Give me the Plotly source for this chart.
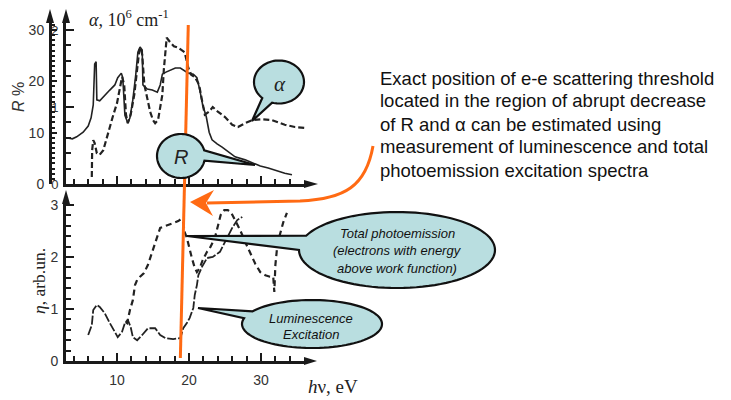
import math
import plotly.graph_objects as go

W, H = 731, 400

# ---- spectra -------------------------------------------------------------
# reflectance R (%) vs photon energy (eV)
r_energy = [3.0, 3.8, 4.4, 5.3, 6.0, 6.4, 6.7, 6.9, 7.1, 7.2, 7.6, 8.1, 8.6, 9.0, 9.7,
            10.1, 10.6, 10.8, 11.1, 11.5, 11.8, 12.2, 12.6, 12.9, 13.2, 13.5, 13.6, 14.2,
            14.9, 15.6, 16.0, 16.3, 16.8, 17.4, 18.1, 18.8, 19.3, 19.9, 20.6, 21.1, 21.5,
            21.9, 22.4, 22.8, 23.2, 23.9, 24.6, 25.7, 26.4, 27.8, 28.8, 29.9, 31.0, 32.2,
            33.3, 34.3]
r_value = [9.0, 8.8, 9.2, 10.1, 11.3, 12.9, 15.4, 23.4, 23.8, 16.4, 16.2, 17.0, 17.7, 18.3,
           19.3, 20.7, 21.6, 20.7, 13.4, 11.9, 12.9, 16.4, 21.2, 25.7, 26.7, 26.1, 19.3,
           18.5, 18.3, 17.9, 19.3, 21.4, 21.8, 22.2, 22.6, 22.6, 22.2, 21.6, 21.4, 20.7,
           18.3, 15.4, 13.1, 10.1, 8.6, 7.8, 7.2, 6.0, 5.3, 4.7, 4.1, 3.5, 3.1, 2.5, 2.1, 1.8]

# absorption coefficient alpha (10^6 cm^-1) vs photon energy (eV)
a_energy = [6.5, 6.55, 6.7, 6.9, 7.2, 7.6, 8.1, 8.5, 8.9, 9.4, 10.0, 10.4, 10.7, 11.0, 11.25,
            11.5, 11.9, 12.4, 12.8, 13.1, 13.3, 13.5, 13.8, 14.2, 14.6, 15.0, 15.3, 15.7,
            16.0, 16.3, 16.5, 16.8, 16.9, 17.4, 17.9, 18.5, 19.0, 19.4, 19.9, 20.3, 20.8,
            21.4, 21.8, 22.2, 22.8, 23.3, 24.0, 25.0, 26.0, 26.8, 27.8, 28.8, 30.1, 31.5,
            33.3, 34.7, 36.0]
a_value = [0.09, 0.44, 0.57, 0.53, 0.40, 0.38, 0.44, 0.57, 0.73, 0.87, 1.05, 1.25, 1.39,
           1.29, 0.90, 0.79, 0.90, 1.16, 1.48, 1.74, 1.77, 1.68, 1.29, 1.09, 0.94, 0.83,
           0.79, 0.83, 0.99, 1.16, 1.48, 1.81, 1.90, 1.84, 1.79, 1.77, 1.74, 1.71, 1.51,
           1.42, 1.39, 1.29, 1.09, 0.90, 0.94, 1.00, 0.94, 0.87, 0.77, 0.74, 0.79, 0.83,
           0.84, 0.83, 0.77, 0.74, 0.73]

# luminescence excitation spectrum (arb. units)
lum_energy = [6.0, 6.5, 6.7, 7.2, 7.6, 8.3, 9.0, 9.7, 10.1, 10.7, 11.1, 11.5, 11.9, 12.2,
              12.8, 13.5, 14.3, 15.3, 16.0, 16.7, 17.8, 18.8, 19.2, 19.7, 20.1, 20.6, 20.8,
              21.1, 21.3, 21.8, 22.5, 23.3, 24.3, 25.3, 26.0, 26.7, 27.4]
lum_value = [0.50, 0.69, 0.98, 1.08, 1.04, 0.92, 0.73, 0.56, 0.46, 0.56, 0.73, 0.79, 0.65,
             0.46, 0.40, 0.50, 0.63, 0.63, 0.50, 0.44, 0.42, 0.44, 0.63, 0.73, 0.83, 1.02,
             1.27, 1.46, 1.65, 1.81, 1.98, 2.00, 2.10, 2.37, 2.56, 2.71, 2.77]

# total photoemission yield (arb. units)
pe_energy = [11.2, 11.4, 11.8, 12.2, 12.5, 12.8, 13.2, 13.75, 14.3, 14.9, 15.3, 15.6, 16.0,
             16.4, 16.9, 17.8, 18.5, 18.9, 19.2, 19.4, 19.7, 20.1, 20.4, 20.8, 21.1, 21.5,
             21.9, 22.5, 22.9, 23.6, 24.0, 24.4, 24.9, 25.4, 25.8, 26.4, 27.1, 27.8, 28.5,
             29.2, 29.9, 30.6, 31.25, 31.7, 31.85, 32.0, 32.2, 32.6, 33.1, 33.6]
pe_value = [0.75, 0.73, 0.98, 1.17, 1.46, 1.56, 1.62, 1.69, 1.85, 2.10, 2.27, 2.42, 2.56,
            2.58, 2.60, 2.65, 2.69, 2.73, 2.67, 2.48, 2.37, 2.13, 1.98, 1.79, 1.71, 1.79,
            1.94, 2.10, 2.17, 2.37, 2.58, 2.81, 2.90, 2.90, 2.87, 2.71, 2.52, 2.29, 2.08,
            1.87, 1.71, 1.65, 1.62, 1.62, 1.33, 1.85, 2.13, 2.42, 2.67, 2.85]

# e-e scattering threshold marker (eV) at the top and bottom of the figure
threshold_top = 19.9
threshold_bottom = 18.8

right_text = [
    "Exact position of e-e scattering threshold",
    "located in the region of abrupt decrease",
    "of R and \u03b1 can be estimated using",
    "measurement of luminescence and total",
    "photoemission excitation spectra",
]

# ---- geometry helpers ----------------------------------------------------
def px(x, y):
    return x / W, 1 - y / H


def path_from(points, close=True):
    parts = []
    for i, (x, y) in enumerate(points):
        u, v = px(x, y)
        parts.append(("M" if i == 0 else "L") + f"{u:.5f},{v:.5f}")
    return " ".join(parts) + (" Z" if close else "")


def callout_path(cx, cy, rx, ry, tip, gap_a, gap_b):
    """Ellipse outline with a wedge-shaped tail between angles gap_a..gap_b (deg)."""
    pts = []
    start, end = gap_b, gap_a + 360
    n = 90
    for i in range(n + 1):
        t = math.radians(start + (end - start) * i / n)
        pts.append((cx + rx * math.cos(t), cy + ry * math.sin(t)))
    pts.append(tip)
    return path_from(pts)


AX = "#1a1a1a"
X_LEFT, X_RIGHT = 66, 305          # pixel extent of both energy axes
EV0, PX_PER_EV = 45, 7.2
x_range = [(X_LEFT - EV0) / PX_PER_EV, (X_RIGHT - EV0) / PX_PER_EV]

TOP_BASE, TOP_TOP = 184, 22
R_PX = 5.133
r_range = [0, (TOP_BASE - TOP_TOP) / R_PX]
a_range = [0, r_range[1] / 15]

BOT_BASE, BOT_TOP = 361, 203
ETA_PX = 52
eta_range = [0, (BOT_BASE - BOT_TOP) / ETA_PX]

fig = go.Figure()
fig.add_trace(go.Scatter(x=r_energy, y=r_value, xaxis="x", yaxis="y2", mode="lines",
                         line=dict(color="#222", width=1.6), showlegend=False))
fig.add_trace(go.Scatter(x=a_energy, y=a_value, xaxis="x", yaxis="y", mode="lines",
                         line=dict(color="#222", width=2.2, dash="6px,3px"), showlegend=False))
fig.add_trace(go.Scatter(x=lum_energy, y=lum_value, xaxis="x2", yaxis="y3", mode="lines",
                         line=dict(color="#222", width=1.8, dash="9px,2px"), showlegend=False))
fig.add_trace(go.Scatter(x=pe_energy, y=pe_value, xaxis="x2", yaxis="y3", mode="lines",
                         line=dict(color="#222", width=2.2, dash="6px,4px"), showlegend=False))

tickfont = dict(family="Arial, Liberation Sans", size=14, color="#333")
common = dict(showgrid=False, zeroline=False, showline=True, linecolor=AX, linewidth=3,
              ticks="inside", tickcolor=AX, tickwidth=2, automargin=False, fixedrange=True)

x_dom = [X_LEFT / W, X_RIGHT / W]
top_dom = [1 - TOP_BASE / H, 1 - TOP_TOP / H]
bot_dom = [1 - BOT_BASE / H, 1 - BOT_TOP / H]

fig.update_layout(
    width=W, height=H, margin=dict(l=0, r=0, t=0, b=0),
    paper_bgcolor="white", plot_bgcolor="rgba(0,0,0,0)",
    xaxis=dict(domain=x_dom, range=x_range, anchor="y", tickmode="linear", tick0=0, dtick=10,
               ticklen=8, showticklabels=False,
               minor=dict(dtick=2, tick0=0, ticklen=5, ticks="inside", tickcolor=AX, tickwidth=2),
               **common),
    yaxis=dict(domain=top_dom, range=a_range, anchor="x", tickmode="linear", tick0=0, dtick=1,
               ticklen=8, tickfont=dict(tickfont, size=13), ticklabelstandoff=2,
               minor=dict(dtick=0.2, tick0=0, ticklen=5, ticks="inside", tickcolor=AX, tickwidth=2),
               **common),
    yaxis2=dict(range=r_range, overlaying="y", anchor="free", position=50 / W, side="left",
                tickmode="linear", tick0=0, dtick=10, ticklen=5, tickfont=tickfont,
                ticklabelstandoff=2,
                minor=dict(dtick=1, tick0=0, ticklen=3, ticks="inside", tickcolor=AX, tickwidth=2),
                **common),
    xaxis2=dict(domain=x_dom, range=x_range, anchor="y3", tickmode="linear", tick0=0, dtick=10,
                ticklen=8, tickfont=tickfont, ticklabelstandoff=4,
                minor=dict(dtick=2, tick0=0, ticklen=5, ticks="inside", tickcolor=AX, tickwidth=2),
                **common),
    yaxis3=dict(domain=bot_dom, range=eta_range, anchor="x2", tickmode="linear", tick0=0, dtick=1,
                ticklen=8, tickfont=tickfont, ticklabelstandoff=2,
                minor=dict(dtick=0.2, tick0=0, ticklen=5, ticks="inside", tickcolor=AX, tickwidth=2),
                **common),
)

shapes = []
# axis arrowheads
for tip, b1, b2 in [((50, 9), (46, 23), (54, 23)),
                    ((66, 9), (62, 23), (70, 23)),
                    ((318, 184), (304, 180), (304, 188)),
                    ((66, 190), (62, 204), (70, 204)),
                    ((317, 361), (304, 357), (304, 365))]:
    shapes.append(dict(type="path", path=path_from([tip, b1, b2]), xref="paper", yref="paper",
                       fillcolor=AX, line=dict(width=0), layer="above"))

ORANGE = "#ff6a13"
# threshold marker spanning both panels
shapes.append(dict(type="line", xref="x", yref="paper",
                   x0=threshold_top, y0=1 - 25 / H, x1=threshold_bottom, y1=1 - 358 / H,
                   line=dict(color=ORANGE, width=3), layer="above"))
# curved pointer from the explanatory text towards the threshold
p0, c1, c2, p3, p4 = px(373, 146), px(366, 186), px(345, 199), px(300, 201), px(207, 203)
shapes.append(dict(type="path", xref="paper", yref="paper",
                   path=f"M{p0[0]:.5f},{p0[1]:.5f} C{c1[0]:.5f},{c1[1]:.5f} {c2[0]:.5f},{c2[1]:.5f} "
                        f"{p3[0]:.5f},{p3[1]:.5f} L{p4[0]:.5f},{p4[1]:.5f}",
                   line=dict(color=ORANGE, width=3), layer="above"))
shapes.append(dict(type="path", xref="paper", yref="paper",
                   path=path_from([(190, 202), (214, 190), (206, 203), (213, 216)]),
                   fillcolor=ORANGE, line=dict(width=0), layer="above"))

# speech-bubble callouts
BUBBLE = "#b9dee0"
for cx, cy, rx, ry, tip, ga, gb in [
        (279, 82, 25, 21.5, (252, 121), 106, 132),
        (181, 156, 24, 22, (255, 165), -15, 12),
        (397, 250, 98, 38, (187, 236), 180, 202),
        (312, 324, 70, 24, (198, 308), 194, 212)]:
    shapes.append(dict(type="path", xref="paper", yref="paper",
                       path=callout_path(cx, cy, rx, ry, tip, ga, gb),
                       fillcolor=BUBBLE, line=dict(color="#111", width=2.2), layer="above"))

fig.update_layout(shapes=shapes)

ann = []


def label(x, y, text, size, family="Arial, Liberation Sans", color="#222",
          xanchor="center", angle=0):
    u, v = px(x, y)
    ann.append(dict(x=u, y=v, xref="paper", yref="paper", text=text, showarrow=False,
                    xanchor=xanchor, yanchor="middle", textangle=angle,
                    font=dict(family=family, size=size, color=color)))


SERIF = "Liberation Serif, Times New Roman, serif"
label(19, 97, "<i>R</i> %", 16, color="#333", angle=-90)
label(87, 19, "<i>\u03b1</i>, 10<sup>6</sup> cm<sup>-1</sup>", 18, family=SERIF, xanchor="left")
label(39, 281, "<i>\u03b7</i>, arb.un.", 17.5, family=SERIF, angle=-90)
label(333, 386, "<i>h</i>\u03bd, eV", 19, family=SERIF)

label(280, 84, "<i>\u03b1</i>", 21, family=SERIF)
label(181, 157, "<i>R</i>", 20)
label(397, 233, "<i>Total photoemission</i>", 13, color="#111")
label(397, 251, "<i>(electrons with energy</i>", 13, color="#111")
label(397, 268, "<i>above work function)</i>", 13, color="#111")
label(311, 318, "<i>Luminescence</i>", 13, color="#111")
label(311, 334, "<i>Excitation</i>", 13, color="#111")

for i, line in enumerate(right_text):
    label(378, 78 + i * 23, line, 18.5, color="#111", xanchor="left")

fig.update_layout(annotations=ann)
fig.write_html("out.html")
